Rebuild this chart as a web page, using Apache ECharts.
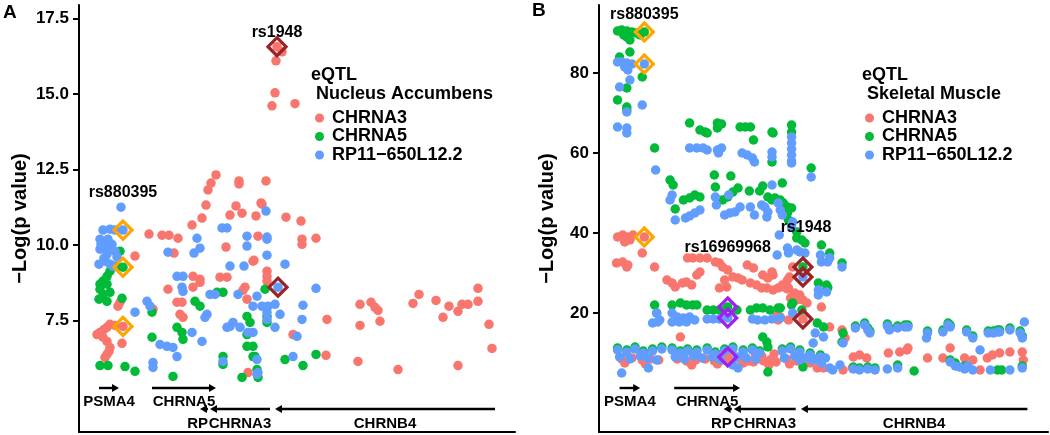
<!DOCTYPE html>
<html><head><meta charset="utf-8">
<script src="https://cdn.jsdelivr.net/npm/echarts@6/dist/echarts.min.js"></script>
<style>html,body{margin:0;padding:0;background:#fff}#c{width:1050px;height:435px}</style>
</head><body><div id="c"></div>
<script>
// ---------- DATA ----------
const seriesNames = ['CHRNA3', 'CHRNA5', 'RP11\u2212650L12.2'];
const tissueTitles = ['eQTL\n Nucleus Accumbens', 'eQTL\n Skeletal Muscle'];
const accTicks = [7.5, 10, 12.5, 15, 17.5];
const musTicks = [20, 40, 60, 80];

// Panel A: Nucleus Accumbens  [position, -log10 p]
const accCHRNA3 = [[198,16.57],[203,16.40],[197,16.10],[196,15.04],[193,14.61],[216,14.68],
[137,12.32],[132,12.05],[129,11.82],[160,12.12],[160,12.02],[187,12.12],[127,11.32],[157,11.29],[182,11.39],[151,10.99],[163,11.05],[177,10.96],[123,10.89],[207,10.92],[222,10.79],[113,10.66],[183,11.35],
[70,10.36],[83,10.32],[90,10.32],[99,10.22],[179,10.29],[223,10.19],[223,10.02],[237,10.22],[147,9.93],[95,9.73],[175,9.49],
[56,9.63],[41,8.10],[39,7.97],[44,7.30],[36,7.33],[31,7.37],[28,7.27],[25,7.20],[21,7.10],[18,7.03],[24,6.94],[28,6.80],[31,6.60],[28,6.37],[26,6.27],[30,6.47],[43,6.74],
[114,8.96],[121,8.86],[121,8.76],[141,8.93],[148,8.93],[166,8.60],[89,8.53],[114,8.60],[164,8.50],[168,8.20],[98,8.10],[103,8.10],[74,7.87],[101,7.70],[104,7.60],[174,9.46],[188,9.13],[188,8.96],[188,8.80],
[214,7.03],[248,7.53],[247,6.34],[169,5.77],
[281,8.03],[292,8.10],[296,7.93],[299,7.83],[301,7.47],[281,7.33],[279,6.14],[319,5.87],[340,8.36],[334,8.06],[357,8.16],[370,7.97],[364,7.60],[379,7.80],[383,8.03],[389,8.03],[399,8.56],[399,8.13],[410,7.37],[413,6.57],[379,6.00]];
const accCHRNA5 = [[41,9.79],[44,9.26],[39,9.26],[36,9.29],[31,9.13],[28,8.96],[24,8.80],[21,8.70],[28,8.70],[21,8.53],[24,8.36],[31,8.43],[28,8.13],[20,8.20],[43,8.23],[21,6.00],[29,6.00],[46,5.97],[56,5.81],
[138,8.43],[144,8.43],[116,8.13],[121,7.97],[73,7.77],[98,7.27],[103,7.10],[104,6.87],[73,6.94],[168,7.63],[171,7.43],[188,7.63],[188,7.43],[168,7.03],[168,6.64],[174,6.30],[144,6.30],[144,6.04],[94,5.64],[163,5.61],[178,5.87],[179,5.61],[186,8.53],[174,6.64],[176,6.30],[206,6.20],[224,6.00],[237,6.37]];
const accRP11 = [[42,11.25],[44,10.49],[24,10.49],[31,10.52],[36,10.49],[21,10.19],[26,9.96],[21,9.86],[31,9.86],[36,9.79],[28,9.69],[25,9.56],[20,9.36],[31,9.36],[34,9.29],[22,10.02],[29,10.19],[33,10.02],[38,9.60],[27,9.45],[56,7.77],
[143,10.56],[148,10.56],[118,10.22],[168,10.29],[188,10.26],[188,10.19],[187,11.12],[121,9.89],[115,9.73],[89,9.76],[188,9.66],[168,9.96],[165,9.30],[151,9.30],[206,9.36],[98,8.96],[104,8.96],[103,8.60],[104,8.46],[131,8.36],[136,8.36],[159,8.36],[68,8.13],[71,7.97],[128,7.70],[126,7.60],
[178,8.30],[174,7.97],[183,7.97],[189,7.97],[196,8.03],[201,7.70],[196,7.27],[188,7.77],[188,7.53],[174,7.10],[218,6.97],[214,6.30],[178,6.20],[179,5.77],[237,8.56],[224,8.00],[223,7.53],[199,8.60],
[154,7.43],[161,7.27],[148,7.27],[151,7.30],[113,7.10],[123,6.80],[81,6.70],[88,6.64],[94,6.60],[98,6.30],[169,7.10],[144,6.14],[74,6.10],[74,5.94],[178,5.71]];

// Panel B: Skeletal Muscle
const musCHRNA3 = [[18,39],[23,39.5],[28,39],[33,39.5],[44,39],[25,37.75],[30,38.25],[17,32.5],[23,32.75],[28,32],[27,31.5],[42,35],[54,31.5],
[86,33.75],[91,33.75],[98,33.75],[105,33.75],[98,30.25],[95,29.5],[113,32.75],[117,32.5],[120,31.5],[125,30.75],
[66,28.25],[71,27.5],[74,26.5],[81,27.5],[85,27.75],[90,27],[122,28.25],[130,29],[135,28.75],[139,28.25],[124,26.5],[117,26.25],
[144,32],[150,31.25],[159,29.5],[164,28.75],[169,29.5],[168,30.25],
[147,27.5],[153,27],[158,26.25],[163,26.25],[169,25.75],[174,26.25],[179,26.5],[184,26.25],
[188,24],[192,23.25],[198,23.25],[188,31.5],[185,29],[183,28.25],[178,27],[183,26],[190,25],[195,24.5],[186,23.75],[202,22.5],[216,21.5],
[224,16.5],[236,15.75],[239,13.75],[173,19.5],[174,18.25],[176,19],[184,18.25],[198,18.5],[79,14],
[22,8.5],[32,8.75],[42,8.25],[50,8.5],[58,8.25],[25,7.5],[45,7.25],[76,8.5],[85,8],[94,8.25],[103,8.5],[112,8],[120,8.25],[125,9],[128,8],[137,8.5],[145,8],[150,7.75],[155,8.5],[160,8],[166,8.25],[172,7.75],[182,8.5],[192,8],[202,8.25],[90,7],[115,7.25],[165,7],[185,7.25],[140,7.5],[152,9.5],[158,9.25],[170,9.75],
[205,7.5],[212,6.25],[218,6.25],[237,5.75],[246,6.25],[247,9],[253,9.5],[260,8.75],
[281,10],[292,10.25],[299,10.75],[300,11.25],[319,8.75],[334,8.75],[341,11.25],[355,8.75],[363,8.25],[370,5.75],[377,8.75],[382,9.5],[389,10],[399,10.25],[411,10.25],[412,8.25]];
const musCHRNA5 = [[18,90.5],[22,90.75],[27,90.5],[32,90.25],[36,90],[40,89.5],[27,89],[30,88.25],[24,89.5],[44,90.25],
[30,85.25],[20,84],[42,79],[27,76.25],[18,73.25],[27,71.5],[27,70.75],[54,61.25],
[88,67.5],[98,65.75],[103,65.25],[105,65],[115,67.5],[119,67.25],[115,66.25],[137,66.5],[142,66.5],[147,66.5],[150,63.25],[168,65.25],[169,65],[168,57.75],[187,67],[187,65.25],[206,56.25],
[69,53.25],[72,52],[82,48.25],[88,48.75],[93,49.5],[98,49],[74,46],[112,54.5],[128,54.25],[113,51.5],[120,48.25],[125,49],[130,50.25],[135,51.25],[146,50.5],[156,50.5],[159,51.75],[164,49],[168,48.25],[171,48.75],[178,52.5],[176,48.25],[179,47.5],[183,46.5],[187,46.25],[181,44.5],[184,43.25],[187,42.75],[183,45],
[192,40.25],[192,38.75],[197,38.25],[200,37.5],[216,37],[224,35],[236,32.5],[198,31.5],[213,27.5],[221,27],[222,26.25],[222,26.5],[221,25.75],
[54,22],[56,20],[71,22],[79,22.5],[85,22],[91,22],[95,22],[105,20.75],[111,20.75],[117,20.75],[124,21.25],[125,21.5],[134,20.75],[147,20.75],[153,21.25],[159,21.25],[166,20.75],[174,21.25],[176,21.25],[187,22],[188,22.5],[197,20.75],
[159,14],[163,12.75],[164,11.5],[212,17.5],[218,16.5],[237,15],[236,12.75],
[249,16.75],[258,17.5],[261,16.25],[263,15.5],[280,17.25],[282,16.25],[290,16.75],[297,17],[300,17],[319,15.5],[334,15.75],[339,17.5],[341,17],[357,15.75],[363,14.25],[378,15.5],[383,15.5],[387,15.75],[389,15.75],[399,16.25],[409,15.5],[411,14.25],
[18,11.25],[27,10.75],[35,11.5],[43,10.5],[52,11],[61,11.5],[71,11.25],[79,10.5],[86,11],[95,10.75],[105,11.25],[113,10.25],[122,11],[130,11.5],[140,10.75],[149,11.25],[156,10.5],[178,11],[186,11.5],[195,10.75],[205,10],[215,9.5],
[198,6.5],[164,5.25],[247,6.5],[253,6.25],[261,6.5],[268,6.25],[290,7],[306,5.5],[341,8.25],[346,7.5],[355,6.75],[387,5.75],[391,5.75],[411,6.75]];
const musRP11 = [[18,82.75],[22,82.75],[27,82.5],[32,82.25],[25,81.5],[28,80.75],[44,82.25],
[30,78.25],[20,76.5],[42,72],[27,70.25],[18,66.5],[27,66.25],[27,65],[55,55.75],
[88,61.25],[95,61.25],[101,61.25],[105,60.75],[115,60.75],[119,61.25],[116,60],[139,60],[144,59.5],[149,58.75],[151,57.75],[168,60.25],[168,59],
[187,64],[187,62.5],[187,61],[187,59.5],[187,58],[187,57.5],[206,54],
[71,49.5],[69,48.25],[74,43.25],[84,43.75],[88,44.25],[93,45],[98,45.75],[113,49],[114,47],[126,49.5],[122,44.5],[127,45],[132,45.25],[137,46.5],[147,46.5],[151,44.5],[168,52],[158,47],[161,46.5],[164,45.25],[163,44],[174,47.5],[176,45.75],[178,44.5],[188,42.75],[187,41.5],[175,39.5],[173,34.5],[183,36.25],[184,35],
[192,35.75],[195,35.25],[200,35],[215,34.5],[216,32.75],[222,32.75],[224,33.75],[236,31.5],[213,25.75],[213,24.5],[221,25.25],[198,29],
[56,20],[59,18.25],[52,17.5],[57,17.75],[71,20],[76,19],[82,18.75],[88,19],[93,18.25],[71,17.75],[78,17.75],[85,17.75],[105,18.5],[111,18.5],[117,18.5],[125,18.75],[149,18.5],[154,18.25],[161,18.25],[168,18.5],[176,18.75],[188,20],
[210,15],[218,14],[208,12.5],[237,12.5],
[249,16.25],[258,17],[261,15.75],[263,15],[280,16.75],[282,15.75],[290,16.25],[297,16.5],[300,16.5],[319,15],[318,13.75],[334,15.25],[339,17],[341,16.5],[357,15.25],[363,13.75],[370,10.75],[378,15],[383,15],[387,15.25],[389,15.25],[399,15.75],[409,15],[411,13.75],[413,17.75],
[18,10.75],[27,10.25],[35,11],[43,10],[52,10.5],[61,11],[71,10.75],[79,10],[86,10.5],[95,10.25],[105,10.75],[113,9.75],[122,10.5],[130,11],[140,10.25],[149,10.75],[156,10],[178,10.5],[186,11],[195,10.25],
[20,9],[30,8.5],[40,9.25],[47,8.75],[56,8.25],[74,9],[83,8.5],[92,9.25],[100,8.75],[110,9],[118,8.25],[134,9],[143,8.75],[152,8.5],[180,8.75],[190,9.25],[200,8.75],[210,8.5],[220,8.75],[205,9.5],[215,9],[195,8.25],[207,8.25],[216,7.5],
[22,5],[48,6.25],[130,7],[135,6.25],[224,6.25],[227,5.75],[234,7],[247,6],[253,5.75],[261,6],[268,5.75],[280,6],[290,6.25],[341,7.75],[346,6.75],[350,6.5],[355,6],[358,6.75],[363,5.75],[380,5.75],[399,5.75],[411,6.25]];

// highlighted SNPs (diamonds)
const accOrange = [[44,10.49],[44,9.26],[44,7.30]];
const accDarkRed = [[198,16.57],[199,8.60]];
const musOrange = [[44,90.25],[44,82.25],[44,39]];
const musDarkRed = [[198,31.5],[198,29],[198,18.5]];
const musPurple = [[125,21.5],[125,18.75],[125,9]];
// SNP annotation labels
const accLabelNames = ['rs880395', 'rs1948'];
const accLabelPos = [[44,11.75],[198,17.03]];
const musLabelNames = ['rs880395', 'rs16969968', 'rs1948'];
const musLabelPos = [[44,94.5],[125,36.25],[201,41.25]];

// gene track
const geneNames = ['PSMA4', 'CHRNA5', 'RP', 'CHRNA3', 'CHRNB4'];
const geneStart = [20, 73, 121, 131, 196];
const geneEnd = [40, 137, 129, 191, 416];
const geneStrand = [1, 1, -1, -1, -1];

// ---------- STYLE ----------
const COLORS = ['#F8766D', '#00BA38', '#619CFF'];
const FONT = '"Liberation Sans", Arial, Helvetica, sans-serif';
const geneLabelAlign = ['center', 'center', 'right', 'center', 'center'];

function pts(name, data, color, gi) {
  return { type: 'scatter', name, data, xAxisIndex: gi, yAxisIndex: gi, symbol: 'circle', symbolSize: 9.5,
    itemStyle: { color, opacity: 1 }, silent: true, z: 2, animation: false };
}
function diam(data, color, gi) {
  return { type: 'scatter', data, xAxisIndex: gi, yAxisIndex: gi, symbol: 'diamond', symbolSize: [18, 18],
    itemStyle: { color: 'rgba(0,0,0,0)', borderColor: color, borderWidth: 3.2, opacity: 1 }, silent: true, z: 5, animation: false };
}
function labels(names, pos, gi) {
  return { type: 'custom', xAxisIndex: gi, yAxisIndex: gi, silent: true, z: 6,
    data: pos.map((p, i) => [p[0], p[1], i]),
    renderItem: function (params, api) {
      const c = api.coord([api.value(0), api.value(1)]);
      return { type: 'text', x: c[0], y: c[1], style: { text: names[api.value(2)], fill: '#000', fontSize: 16, fontWeight: 'bold', fontFamily: FONT, align: 'center', verticalAlign: 'middle' } };
    } };
}
function geneSeries(gi) {
  return {
    type: 'custom', xAxisIndex: gi, yAxisIndex: gi, silent: true, z: 4,
    data: geneNames.map((n, i) => [geneStart[i], geneEnd[i], geneStrand[i], i]),
    renderItem: function (params, api) {
      const cs = params.coordSys;
      const bottom = cs.y + cs.height;
      const s = api.coord([api.value(0), 0])[0];
      const e = api.coord([api.value(1), 0])[0];
      const strand = api.value(2);
      const idx = api.value(3);
      const ya = bottom - (strand > 0 ? 44 : 23);
      const yt = bottom - (strand > 0 ? 30 : 8);
      const head = strand > 0 ? e : s, tail = strand > 0 ? s : e, dir = strand > 0 ? 1 : -1;
      const hl = 7, hw = 4;
      const align = geneLabelAlign[idx];
      const tx = align === 'right' ? Math.max(s, e) : (s + e) / 2;
      return { type: 'group', children: [
        { type: 'line', shape: { x1: tail, y1: ya, x2: head - dir * hl * 0.6, y2: ya }, style: { stroke: '#000', lineWidth: 2.4 } },
        { type: 'polygon', shape: { points: [[head, ya], [head - dir * hl, ya - hw], [head - dir * hl, ya + hw]] }, style: { fill: '#000' } },
        { type: 'text', x: tx, y: yt, style: { text: geneNames[idx], fill: '#000', fontSize: 15, fontWeight: 'bold', fontFamily: FONT, align: align, verticalAlign: 'middle' } }
      ] };
    }
  };
}
function yAx(gi, min, max, ticks, fmt, gap) {
  return { gridIndex: gi, type: 'value', min, max,
    name: '\u2212Log(p value)', nameLocation: 'middle', nameGap: gap,
    nameTextStyle: { fontSize: 20, fontWeight: 'bold', color: '#000', fontFamily: FONT },
    axisLine: { show: true, lineStyle: { color: '#000', width: 2 } },
    axisTick: { show: true, length: 6, customValues: ticks, lineStyle: { color: '#000', width: 2 } },
    axisLabel: { customValues: ticks, formatter: fmt, fontSize: 17, fontWeight: 'bold', color: '#000', margin: 10, fontFamily: FONT },
    splitLine: { show: false } };
}
function xAx(gi) {
  return { gridIndex: gi, type: 'value', min: 0, max: 436,
    axisLine: { show: true, onZero: false, lineStyle: { color: '#000', width: 2 } },
    axisTick: { show: false }, axisLabel: { show: false }, splitLine: { show: false } };
}
const legendBase = { data: seriesNames, orient: 'vertical', icon: 'circle', itemWidth: 9, itemHeight: 9, itemGap: 0.5,
  selectedMode: false, padding: 0, textStyle: { fontSize: 18, fontWeight: 'bold', color: '#000', lineHeight: 16, fontFamily: FONT, padding: [0, 0, 0, 3] } };
const titleStyle = { fontSize: 18, fontWeight: 'bold', lineHeight: 19, color: '#000', fontFamily: FONT };

const option = {
  animation: false,
  textStyle: { fontFamily: FONT },
  title: [
    { text: 'A', left: 3, top: 3, padding: 0, textStyle: { fontSize: 19, fontWeight: 'bold', color: '#000', fontFamily: FONT } },
    { text: 'B', left: 532, top: 1, padding: 0, textStyle: { fontSize: 19, fontWeight: 'bold', color: '#000', fontFamily: FONT } },
    { text: tissueTitles[0], left: 311, top: 66, padding: 0, textStyle: titleStyle },
    { text: tissueTitles[1], left: 862, top: 66, padding: 0, textStyle: titleStyle }
  ],
  legend: [Object.assign({ left: 315, top: 109 }, legendBase), Object.assign({ left: 865, top: 109 }, legendBase)],
  grid: [{ left: 79, right: 535, top: 5, bottom: 3 }, { left: 599, right: 2, top: 5, bottom: 3 }],
  xAxis: [xAx(0), xAx(1)],
  yAxis: [yAx(0, 3.8, 17.95, accTicks, v => v.toFixed(1), 49), yAx(1, -9.75, 97, musTicks, v => String(v), 42)],
  series: [
    pts(seriesNames[0], accCHRNA3, COLORS[0], 0), pts(seriesNames[1], accCHRNA5, COLORS[1], 0), pts(seriesNames[2], accRP11, COLORS[2], 0),
    pts(seriesNames[0], musCHRNA3, COLORS[0], 1), pts(seriesNames[1], musCHRNA5, COLORS[1], 1), pts(seriesNames[2], musRP11, COLORS[2], 1),
    diam(accOrange, '#FFA500', 0), diam(accDarkRed, '#9B2226', 0),
    diam(musOrange, '#FFA500', 1), diam(musDarkRed, '#9B2226', 1), diam(musPurple, '#A020F0', 1),
    labels(accLabelNames, accLabelPos, 0), labels(musLabelNames, musLabelPos, 1),
    geneSeries(0), geneSeries(1)
  ]
};
const chart = echarts.init(document.getElementById('c'), null, { renderer: 'canvas' });
chart.setOption(option);
</script></body></html>
